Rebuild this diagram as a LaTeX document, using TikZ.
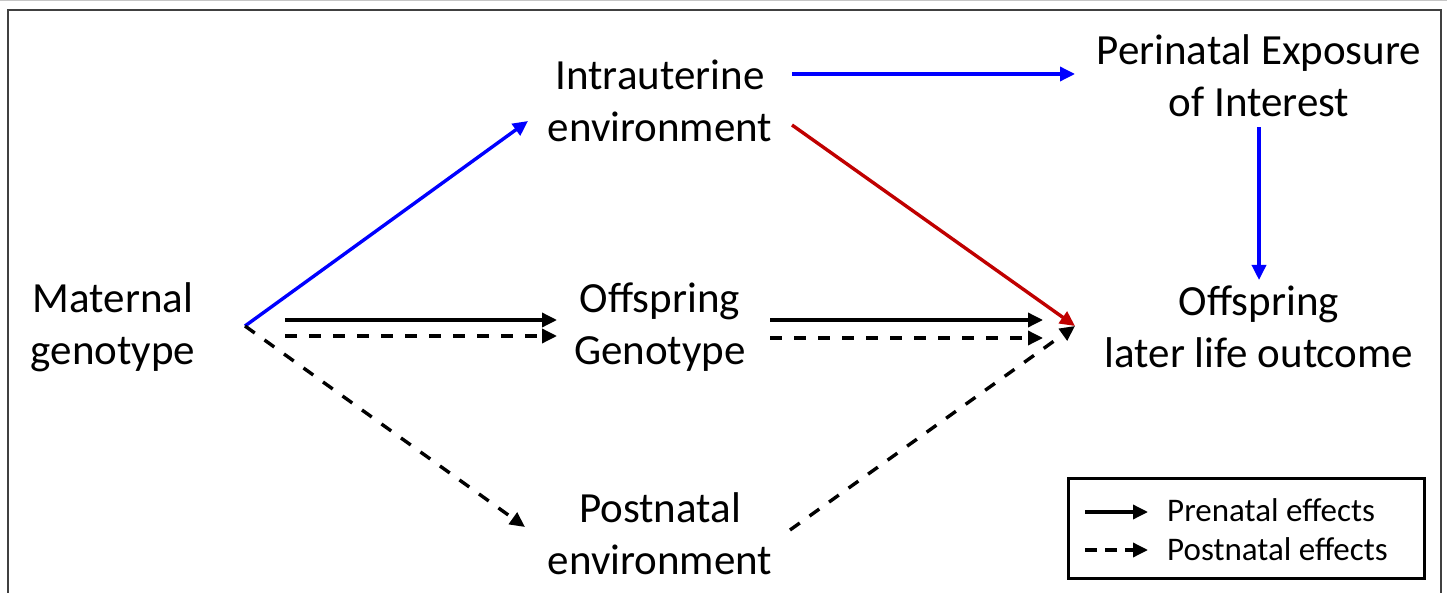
\documentclass[tikz,border=0pt]{standalone}
\usepackage{fontspec}
\setmainfont{Carlito}
\usetikzlibrary{arrows.meta}
\definecolor{myblue}{RGB}{0,0,255}
\definecolor{myred}{RGB}{192,0,0}
\definecolor{frame}{RGB}{64,64,64}
\begin{document}
\begin{tikzpicture}[x=1pt,y=-1pt,
  lbl/.style={align=center,font=\fontsize{43}{52}\selectfont,inner sep=0pt},
  leg/.style={anchor=west,font=\fontsize{33}{40}\selectfont,inner sep=0pt},
  arr/.style={line width=3.4pt,-{Triangle[length=15pt,width=14pt]}},
  dsh/.style={arr,dash pattern=on 12pt off 12pt}]
\useasboundingbox (0,0) rectangle (1447,593);
\fill[white] (0,0) rectangle (1447,593);
\draw[gray!45,line width=1pt] (0,0.5) -- (1447,0.5);
\draw[frame,line width=2pt] (8,600) -- (8,10) -- (1441,10) -- (1441,600);
% nodes
\node[lbl] (mat) at (113,327) {Maternal\\genotype};
\node[lbl] (intra) at (660,101) {Intrauterine\\environment};
\node[lbl] (offg) at (660,327) {Offspring\\Genotype};
\node[lbl] (post) at (660,534) {Postnatal\\environment};
\node[lbl] (peri) at (1259,76) {Perinatal Exposure\\of Interest};
\node[lbl] (out) at (1259,327) {Offspring\\later life outcome};
% connector endpoints
\coordinate (m0) at (245,326);
\coordinate (iin) at (528,121);
\coordinate (pin) at (525,527);
\coordinate (o1) at (1075,326);
\coordinate (iout) at (792,125);
\coordinate (pout) at (790,530);
% arrows
\draw[arr,myblue] (m0) -- (iin);
\draw[dsh] (m0) -- (pin);
\draw[arr] (285,320) -- (557,320);
\draw[dsh] (285,336) -- (557,336);
\draw[arr] (770,320) -- (1043,320);
\draw[dsh] (770,338) -- (1043,338);
\draw[arr,myred] (iout) -- (o1);
\draw[dsh] (pout) -- (o1);
\draw[arr,myblue] (792,74) -- (1075,74);
\draw[arr,myblue] (peri.south -| 1259,0) ++(0,10) -- (1259,280);
% legend
\node[draw,line width=3pt,minimum width=356pt,minimum height=100pt,inner sep=0pt] (legbox) at (1246,528) {};
\node[leg] (l1) at (1167,510) {Prenatal effects};
\node[leg] (l2) at (1167,549) {Postnatal effects};
\draw[arr] (1085,512) -- (1148,512);
\draw[dsh,dash pattern=on 12pt off 8pt] (1085,550) -- (1148,550);
\end{tikzpicture}
\end{document}
